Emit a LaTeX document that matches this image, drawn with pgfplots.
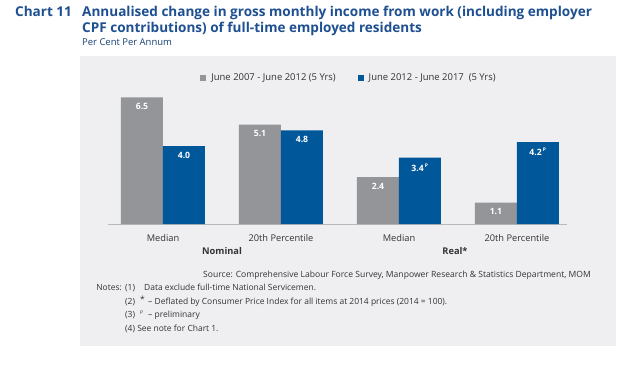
\documentclass[border=0pt]{standalone}
\usepackage{pgfplots}
\pgfplotsset{compat=1.18}
\usepackage{fontspec}
\setmainfont{Open Sans}
\definecolor{bargray}{HTML}{939598}
\definecolor{barblue}{HTML}{00589B}
\definecolor{titleblue}{HTML}{1D4F91}
\definecolor{panel}{HTML}{EFEFF2}
\definecolor{txt}{HTML}{333333}
\newcommand{\Ps}{\textsuperscript{\,\fontsize{5}{5}\selectfont P}}
\begin{document}
\begin{tikzpicture}[x=1bp,y=1bp]
\useasboundingbox (0,0) rectangle (626,367);
\fill[white] (0,0) rectangle (626,367);
\fill[panel] (80,21) rectangle (616,311);
\node[anchor=base west, font=\fontsize{13.6}{15}\selectfont\bfseries, text=titleblue, inner sep=0] at (15,351) {Chart 11};
\node[anchor=base west, font=\fontsize{13.6}{15}\selectfont\bfseries, text=titleblue, inner sep=0] at (82,351) {Annualised change in gross monthly income from work (including employer};
\node[anchor=base west, font=\fontsize{13.6}{15}\selectfont\bfseries, text=titleblue, inner sep=0] at (82,335) {CPF contributions) of full-time employed residents};
\node[anchor=base west, font=\fontsize{9.5}{10}\selectfont, text=titleblue!80!black, inner sep=0] at (82,322) {Per Cent Per Annum};
\begin{axis}[
  at={(108bp,143bp)}, anchor=south west,
  scale only axis, width=459bp, height=136.5bp,
  xmin=-0.466, xmax=3.424, ymin=0, ymax=7,
  enlargelimits=false, clip=false,
  axis y line=none, axis x line*=bottom,
  x axis line style={draw=black!28, line width=1bp},
  xtick={0,1,2,3},
  xticklabels={Median,20th Percentile,Median,20th Percentile},
  major tick length=0pt,
  xticklabel style={font=\fontsize{9.3}{10}\selectfont, text=txt, yshift=-7bp},
  ybar=0pt, bar width=42bp,
  point meta=explicit symbolic,
  nodes near coords,
  every node near coord/.append style={anchor=north, yshift=-6bp, text=white, font=\fontsize{8.7}{9}\selectfont\bfseries, inner sep=0pt},
  legend columns=2,
  legend style={at={(0.525,1.07)}, anchor=center, draw=none, fill=none, font=\fontsize{9.5}{10}\selectfont, text=txt,
    /tikz/every even column/.append style={column sep=20bp},
    /tikz/every odd column/.append style={column sep=3bp}},
  legend image code/.code={\fill[#1] (0bp,-3bp) rectangle (6bp,3bp);},
]
\addplot[fill=bargray, draw=none] coordinates {(0,6.5)[6.5] (1,5.1)[5.1] (2,2.4)[2.4] (3,1.1)[1.1]};
\addlegendentry{June 2007 - June 2012 (5 Yrs)}
\addplot[fill=barblue, draw=none] coordinates {(0,4.0)[4.0] (1,4.8)[4.8] (2,3.4)[3.4\Ps] (3,4.2)[4.2\Ps]};
\addlegendentry{June 2012 - June 2017\ \ (5 Yrs)}
\end{axis}
\node[font=\fontsize{9.3}{10}\selectfont\bfseries, text=txt, inner sep=0] at (222,116) {Nominal};
\node[font=\fontsize{9.3}{10}\selectfont\bfseries, text=txt, inner sep=0] at (455,116) {Real*};
\node[anchor=base east, inner sep=0, font=\fontsize{8.6}{9}\selectfont, text=txt] at (591,90) {Source: Comprehensive Labour Force Survey, Manpower Research \& Statistics Department, MOM};
\begin{scope}[every node/.style={anchor=base west, inner sep=0, font=\fontsize{8.5}{9}\selectfont, text=txt}]
\node[anchor=base east] at (122,77) {Notes:};
\node at (125,77) {(1)};
\node at (144,77) {Data exclude full-time National Servicemen.};
\node at (125,63) {(2)};
\node at (140,63) {\raisebox{2bp}{*}};
\node at (148,63) {– Deflated by Consumer Price Index for all items at 2014 prices (2014 = 100).};
\node at (125,50) {(3)};
\node at (140,50) {\raisebox{3bp}{\fontsize{5}{5}\selectfont P}};
\node at (148,50) {– preliminary};
\node at (125,36) {(4) See note for Chart 1.};
\end{scope}
\end{tikzpicture}
\end{document}
